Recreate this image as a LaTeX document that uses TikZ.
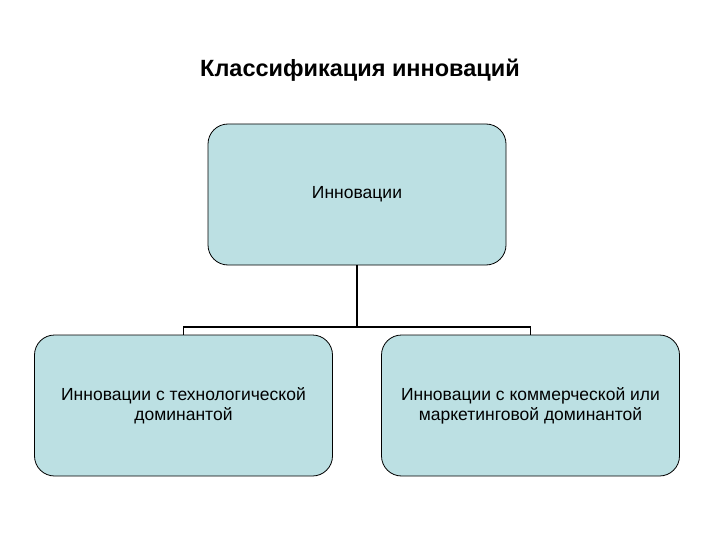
\documentclass[tikz,border=0pt]{standalone}
\usepackage{fontspec}
\setmainfont{Liberation Sans}
\definecolor{boxfill}{HTML}{BCE0E3}
\begin{document}
\begin{tikzpicture}[x=1pt,y=-1pt,
  boxst/.style={draw=black,line width=0.8pt,fill=boxfill,rounded corners=20pt,minimum width=298pt,minimum height=141pt,align=center,font=\fontsize{17.5}{20}\selectfont,inner sep=0pt},
  conn/.style={line width=1.6pt}]
\useasboundingbox (0,0) rectangle (720,540);
\node[font=\bfseries\fontsize{23.5}{28}\selectfont] (title) at (360,70) {Классификация инноваций};
\node[boxst] (top) at (357,194.5) {Инновации};
\node[boxst] (left) at (183.5,405.5) {Инновации с технологической\\доминантой};
\node[boxst] (right) at (530.5,405.5) {Инновации с коммерческой или\\маркетинговой доминантой};
\coordinate (j) at (357,327);
\draw[conn] (top.south) -- (j);
\draw[conn] (left.north) -- (left.north |- j) -- (right.north |- j) -- (right.north);
\end{tikzpicture}
\end{document}
